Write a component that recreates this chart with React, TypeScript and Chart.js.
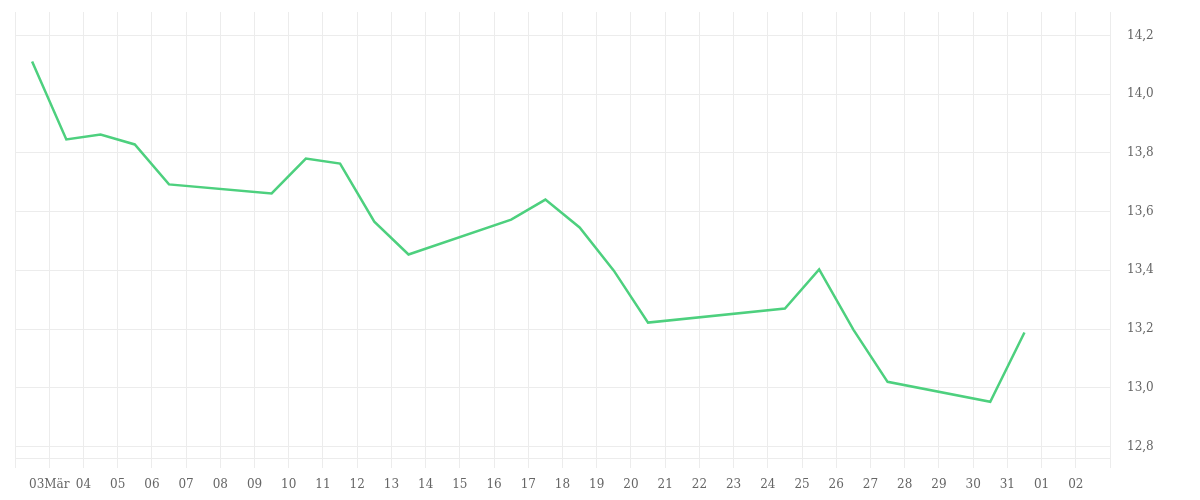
import React, { useEffect, useRef } from "react";
import { Chart, registerables } from "chart.js";

Chart.register(...registerables);

// Trading days (ISO dates) and closing values
const dates: string[] = [
  "2020-03-02", "2020-03-03", "2020-03-04", "2020-03-05", "2020-03-06",
  "2020-03-09", "2020-03-10", "2020-03-11", "2020-03-12", "2020-03-13",
  "2020-03-16", "2020-03-17", "2020-03-18", "2020-03-19", "2020-03-20",
  "2020-03-24", "2020-03-25", "2020-03-26", "2020-03-27",
  "2020-03-30", "2020-03-31",
];
const values: number[] = [
  14.112, 13.846, 13.863, 13.829, 13.693,
  13.662, 13.781, 13.764, 13.566, 13.454,
  13.573, 13.641, 13.546, 13.399, 13.222,
  13.27, 13.403, 13.198, 13.02,
  12.952, 13.188,
];

// Axis day ticks from 2020-03-02 (index 0) to 2020-04-03 (index 32)
const startDate = "2020-03-02";
const tickLabels: string[] = [
  "", "03Mär", "04", "05", "06", "07", "08", "09", "10", "11", "12", "13",
  "14", "15", "16", "17", "18", "19", "20", "21", "22", "23", "24", "25",
  "26", "27", "28", "29", "30", "31", "01", "02", "",
];
const yTicks: number[] = [12.8, 13.0, 13.2, 13.4, 13.6, 13.8, 14.0, 14.2];
const yMin = 12.7604;
const yMax = 14.2805;

const DAY = 86400000;
const dayIndex = (d: string) =>
  (Date.parse(d + "T00:00:00Z") - Date.parse(startDate + "T00:00:00Z")) / DAY;

export default function App() {
  const ref = useRef<HTMLCanvasElement | null>(null);

  useEffect(() => {
    if (!ref.current) return;
    const points = dates.map((d, i) => ({ x: dayIndex(d) + 0.5, y: values[i] }));
    const gridColor = "#ececec";
    const font = { family: "'DejaVu Serif', serif", size: 12 };
    const chart = new Chart(ref.current, {
      type: "line",
      data: {
        datasets: [
          {
            data: points,
            borderColor: "#4dd07e",
            borderWidth: 2.5,
            pointRadius: 0,
            tension: 0,
            fill: false,
          },
        ],
      },
      options: {
        animation: false,
        responsive: true,
        maintainAspectRatio: false,
        layout: { padding: { left: 7, top: 4, right: 0, bottom: 0 } },
        plugins: { legend: { display: false }, tooltip: { enabled: false } },
        scales: {
          x: {
            type: "linear",
            min: 0,
            max: tickLabels.length - 1,
            afterBuildTicks: (scale: any) => {
              scale.ticks = tickLabels.map((_, i) => ({ value: i }));
            },
            afterFit: (scale: any) => {
              scale.height = 34;
              scale.paddingLeft = 0;
              scale.paddingRight = 0;
            },
            grid: { color: gridColor, drawTicks: true, tickLength: 10, tickColor: gridColor },
            border: { color: gridColor },
            ticks: {
              autoSkip: false,
              maxRotation: 0,
              padding: 10,
              color: "#666",
              font,
              callback: (v: any) => tickLabels[Math.round(Number(v))] ?? "",
            },
          },
          y: {
            position: "right",
            min: yMin,
            max: yMax,
            afterBuildTicks: (scale: any) => {
              scale.ticks = yTicks.map((v) => ({ value: v }));
            },
            afterFit: (scale: any) => {
              scale.width = 82;
              scale.paddingTop = 0;
              scale.paddingBottom = 0;
            },
            grid: { color: gridColor, drawTicks: false },
            border: { color: gridColor },
            ticks: {
              padding: 17,
              color: "#666",
              font,
              callback: (v: any) => Number(v).toFixed(1).replace(".", ","),
            },
          },
        },
      },
    });
    return () => chart.destroy();
  }, []);

  return (
    <div style={{ width: "1184px", height: "484px", position: "relative" }}>
      <canvas ref={ref} />
    </div>
  );
}
